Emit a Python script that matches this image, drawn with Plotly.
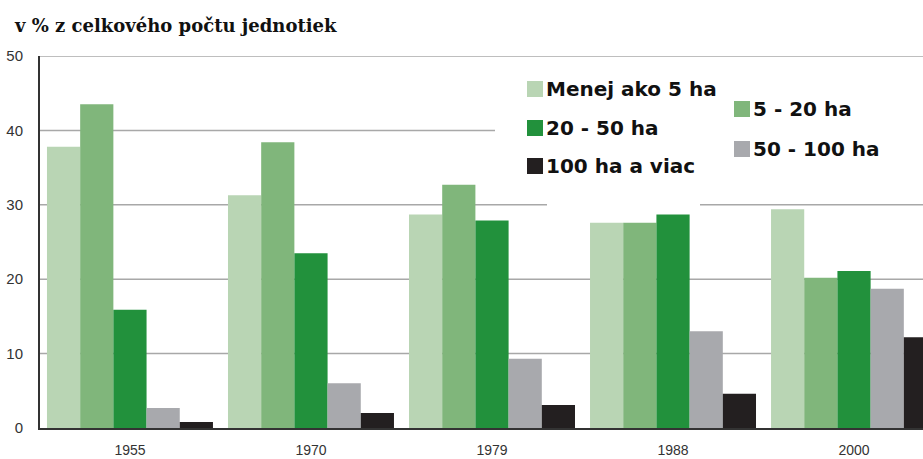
import plotly.graph_objects as go

years = ["1955", "1970", "1979", "1988", "2000"]
series_names = ["Menej ako 5 ha", "5 - 20 ha", "20 - 50 ha", "50 - 100 ha", "100 ha a viac"]
menej_5 = [37.8, 31.3, 28.7, 27.6, 29.4]
ha_5_20 = [43.5, 38.4, 32.7, 27.6, 20.2]
ha_20_50 = [15.9, 23.5, 27.9, 28.7, 21.1]
ha_50_100 = [2.7, 6.0, 9.3, 13.0, 18.7]
ha_100_plus = [0.8, 2.0, 3.1, 4.6, 12.2]
y_ticks = [0, 10, 20, 30, 40, 50]
title_text = "v % z celkového počtu jednotiek"

colors = ["#b9d5b4", "#80b67b", "#22913c", "#a8a9ad", "#231f20"]
values = [menej_5, ha_5_20, ha_20_50, ha_50_100, ha_100_plus]

W, H = 923, 459
L, R, T, B = 40, 0, 56, 31
PW, PH = W - L - R, H - T - B


def px(x):
    return (x - L) / PW


def py(y):
    return 1 - (y - T) / PH


fig = go.Figure()
for name, vals, col in zip(series_names, values, colors):
    fig.add_trace(go.Bar(x=list(range(len(years))), y=vals, name=name,
                         marker=dict(color=col, line=dict(width=0))))

shapes = []
# gridlines (partly hidden behind the legend area as in the original)
grid_segments = {10: [(40, 923)], 20: [(40, 923)], 30: [(40, 547), (700, 923)],
                 40: [(40, 495)], 50: [(40, 923)]}
for val in y_ticks[1:]:
    for a, b in grid_segments[val]:
        shapes.append(dict(type="line", xref="paper", yref="y", x0=px(a), x1=px(b), y0=val, y1=val,
                           line=dict(color="#a8a8a8", width=1.5), layer="below"))

annotations = []
legend_pos = [(527, 89), (734, 109), (527, 128), (734, 149), (527, 166)]
for (lx, ly), name, col in zip(legend_pos, series_names, colors):
    shapes.append(dict(type="rect", xref="paper", yref="paper", x0=px(lx), x1=px(lx + 16),
                       y0=py(ly + 8), y1=py(ly - 8), fillcolor=col, line=dict(width=0), layer="above"))
    annotations.append(dict(xref="paper", yref="paper", x=px(lx + 17), y=py(ly), text=name,
                            showarrow=False, xanchor="left", yanchor="middle",
                            font=dict(family="DejaVu Sans", size=20, color="#111111", weight="bold")))

annotations.append(dict(xref="paper", yref="paper", x=px(12), y=py(25), text="<b>" + title_text + "</b>",
                        showarrow=False, xanchor="left", yanchor="middle",
                        font=dict(family="DejaVu Serif", size=18, color="#111111")))

fig.update_layout(
    width=W, height=H,
    margin=dict(l=L, r=R, t=T, b=B, pad=0),
    paper_bgcolor="white", plot_bgcolor="white",
    barmode="group", bargap=0.083, bargroupgap=0,
    showlegend=False,
    shapes=shapes, annotations=annotations,
    xaxis=dict(range=[-0.497, 4.381], tickmode="array", tickvals=list(range(len(years))),
               ticktext=years, showline=True, linecolor="#333333", linewidth=2,
               showgrid=False, zeroline=False, ticks="",
               tickfont=dict(family="Liberation Sans", size=14, color="#333333"),
               ticklabelstandoff=8),
    yaxis=dict(range=[0, 50], tickmode="array", tickvals=y_ticks,
               showline=True, linecolor="#333333", linewidth=2,
               showgrid=False, zeroline=False, ticks="",
               tickfont=dict(family="Liberation Sans", size=15, color="#333333"),
               ticklabelstandoff=12),
)

fig.write_html("out.html", config={"displayModeBar": False},
               post_script="document.body.style.margin='0';document.body.style.padding='0';")
